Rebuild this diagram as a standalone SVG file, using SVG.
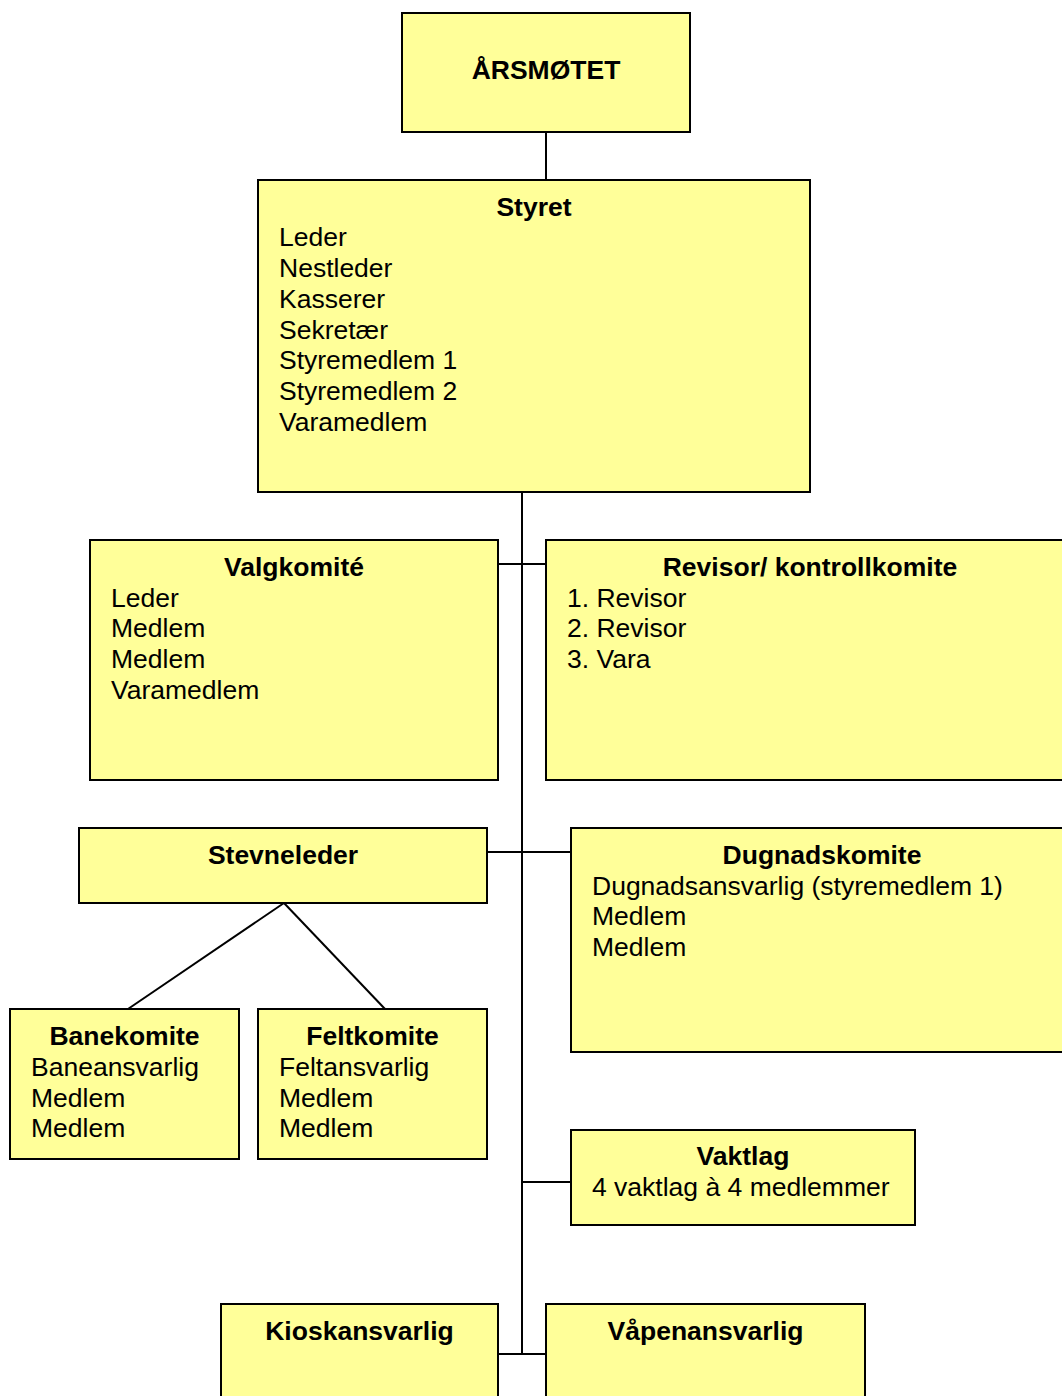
<svg xmlns="http://www.w3.org/2000/svg" width="1062" height="1396" viewBox="0 0 1062 1396">
<style>
.box{fill:#FFFF99;stroke:#000;stroke-width:2}
.t{font-family:"Liberation Sans",Arial,sans-serif;font-size:26.5px;fill:#000}
.b{font-weight:bold;text-anchor:middle}
.c{stroke:#000;stroke-width:2;fill:none}
</style>
<rect width="1062" height="1396" fill="#fff"/>
<g id="connectors">
<line class="c" x1="546" y1="132" x2="546" y2="180"/>
<line class="c" x1="522" y1="492" x2="522" y2="1354"/>
<line class="c" x1="498" y1="564" x2="546" y2="564"/>
<line class="c" x1="487" y1="852" x2="571" y2="852"/>
<line class="c" x1="522" y1="1182" x2="571" y2="1182"/>
<line class="c" x1="498" y1="1354" x2="546" y2="1354"/>
<line class="c" x1="284" y1="903" x2="128" y2="1009"/>
<line class="c" x1="284" y1="903" x2="385" y2="1009"/>
</g>
<g id="arsmotet">
<rect class="box" x="402" y="13" width="288" height="119"/>
<text class="t b" x="546" y="79">ÅRSMØTET</text>
</g>
<g id="styret">
<rect class="box" x="258" y="180" width="552" height="312"/>
<text class="t b" x="534" y="216">Styret</text>
<text class="t" x="279" y="246">Leder</text>
<text class="t" x="279" y="277">Nestleder</text>
<text class="t" x="279" y="308">Kasserer</text>
<text class="t" x="279" y="339">Sekretær</text>
<text class="t" x="279" y="369">Styremedlem 1</text>
<text class="t" x="279" y="400">Styremedlem 2</text>
<text class="t" x="279" y="431">Varamedlem</text>
</g>
<g id="valgkomite">
<rect class="box" x="90" y="540" width="408" height="240"/>
<text class="t b" x="294" y="576">Valgkomité</text>
<text class="t" x="111" y="607">Leder</text>
<text class="t" x="111" y="637">Medlem</text>
<text class="t" x="111" y="668">Medlem</text>
<text class="t" x="111" y="699">Varamedlem</text>
</g>
<g id="revisor">
<rect class="box" x="546" y="540" width="528" height="240"/>
<text class="t b" x="810" y="576">Revisor/ kontrollkomite</text>
<text class="t" x="567" y="607">1. Revisor</text>
<text class="t" x="567" y="637">2. Revisor</text>
<text class="t" x="567" y="668">3. Vara</text>
</g>
<g id="stevneleder">
<rect class="box" x="79" y="828" width="408" height="75"/>
<text class="t b" x="283" y="864">Stevneleder</text>
</g>
<g id="dugnadskomite">
<rect class="box" x="571" y="828" width="503" height="224"/>
<text class="t b" x="822" y="864">Dugnadskomite</text>
<text class="t" x="592" y="895">Dugnadsansvarlig (styremedlem 1)</text>
<text class="t" x="592" y="925">Medlem</text>
<text class="t" x="592" y="956">Medlem</text>
</g>
<g id="banekomite">
<rect class="box" x="10" y="1009" width="229" height="150"/>
<text class="t b" x="124.5" y="1045">Banekomite</text>
<text class="t" x="31" y="1076">Baneansvarlig</text>
<text class="t" x="31" y="1107">Medlem</text>
<text class="t" x="31" y="1137">Medlem</text>
</g>
<g id="feltkomite">
<rect class="box" x="258" y="1009" width="229" height="150"/>
<text class="t b" x="372.5" y="1045">Feltkomite</text>
<text class="t" x="279" y="1076">Feltansvarlig</text>
<text class="t" x="279" y="1107">Medlem</text>
<text class="t" x="279" y="1137">Medlem</text>
</g>
<g id="vaktlag">
<rect class="box" x="571" y="1130" width="344" height="95"/>
<text class="t b" x="743" y="1165">Vaktlag</text>
<text class="t" x="592" y="1196">4 vaktlag à 4 medlemmer</text>
</g>
<g id="kioskansvarlig">
<rect class="box" x="221" y="1304" width="277" height="110"/>
<text class="t b" x="359.5" y="1340">Kioskansvarlig</text>
</g>
<g id="vapenansvarlig">
<rect class="box" x="546" y="1304" width="319" height="110"/>
<text class="t b" x="705.5" y="1340">Våpenansvarlig</text>
</g>
</svg>
